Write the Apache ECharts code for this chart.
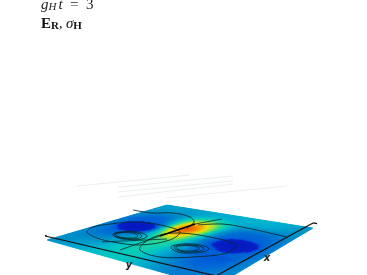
<!DOCTYPE html>
<html>
<head>
<meta charset="utf-8">
<title>E_R, sigma_H</title>
<script src="https://cdn.jsdelivr.net/npm/echarts@6/dist/echarts.min.js"></script>
<style>
  html, body { margin: 0; padding: 0; background: #fff; }
  #chart { width: 367px; height: 275px; }
</style>
</head>
<body>
<div id="chart"></div>
<script>
// field on the plate, in percent of the colour range. rows run along x, columns along y
const fieldRows = [
  [30, 31, 32, 34, 36, 38, 40, 41, 42, 43, 43, 42, 40, 36, 32, 28, 26, 26, 27, 29, 30],
  [30, 30, 31, 33, 35, 37, 40, 42, 43, 44, 44, 42, 39, 35, 30, 27, 25, 25, 26, 28, 30],
  [30, 30, 30, 32, 33, 36, 39, 42, 44, 45, 45, 43, 38, 33, 29, 25, 23, 23, 25, 27, 30],
  [29, 29, 29, 30, 31, 34, 38, 42, 45, 46, 46, 44, 38, 32, 27, 23, 21, 21, 23, 26, 29],
  [29, 28, 27, 28, 29, 32, 37, 42, 45, 47, 47, 44, 38, 31, 25, 21, 19, 19, 21, 25, 29],
  [29, 27, 25, 25, 26, 30, 35, 41, 46, 48, 48, 45, 38, 30, 24, 20, 18, 18, 20, 24, 28],
  [28, 26, 23, 22, 23, 27, 33, 40, 46, 50, 50, 46, 38, 29, 22, 19, 17, 16, 18, 23, 28],
  [28, 25, 22, 20, 20, 22, 28, 38, 46, 52, 52, 47, 38, 28, 21, 20, 20, 20, 21, 22, 27],
  [27, 24, 19, 11, 9, 13, 21, 38, 52, 62, 62, 52, 39, 27, 20, 17, 10, 11, 19, 22, 27],
  [27, 24, 11, 3, 1, 4, 13, 40, 58, 72, 70, 56, 40, 26, 18, 9, 2, 3, 11, 22, 26],
  [26, 23, 11, 3, 1, 4, 13, 44, 66, 82, 78, 60, 42, 26, 18, 8, 1, 2, 10, 21, 26],
  [26, 22, 19, 11, 9, 13, 21, 48, 74, 91, 86, 66, 45, 27, 20, 13, 6, 7, 15, 22, 27],
  [27, 22, 20, 20, 19, 20, 26, 50, 78, 96, 90, 70, 48, 29, 22, 20, 18, 19, 20, 23, 27],
  [28, 24, 21, 20, 20, 22, 32, 50, 74, 90, 84, 68, 50, 32, 23, 21, 20, 20, 21, 24, 28],
  [29, 26, 23, 21, 21, 24, 34, 50, 68, 78, 76, 64, 50, 35, 26, 22, 21, 21, 23, 25, 29],
  [30, 28, 26, 25, 25, 27, 35, 47, 60, 67, 66, 58, 48, 37, 29, 26, 25, 25, 25, 27, 30],
  [31, 30, 29, 28, 28, 29, 34, 43, 50, 55, 55, 50, 44, 37, 33, 31, 30, 29, 28, 29, 31],
  [32, 32, 31, 31, 31, 31, 34, 39, 43, 46, 46, 44, 41, 38, 36, 36, 35, 34, 32, 31, 31],
  [33, 33, 33, 33, 32, 32, 34, 36, 38, 40, 40, 39, 38, 38, 38, 38, 38, 36, 34, 32, 31],
  [34, 34, 34, 33, 33, 33, 34, 35, 36, 37, 37, 37, 38, 38, 39, 39, 38, 37, 35, 33, 31],
  [34, 34, 34, 33, 33, 33, 34, 35, 36, 36, 37, 37, 38, 38, 39, 39, 38, 37, 35, 33, 31]
]

// contours on the plate, [x, y] in plate units
const ringLeft1 = [[0.357, 0.37], [0.386, 0.281], [0.351, 0.218], [0.278, 0.199], [0.241, 0.272], [0.258, 0.34], [0.301, 0.384]]
const ringLeft2 = [[0.345, 0.345], [0.37, 0.27], [0.34, 0.215], [0.28, 0.205], [0.25, 0.265], [0.265, 0.325], [0.3, 0.36]]
const ringLeft3 = [[0.335, 0.325], [0.355, 0.265], [0.33, 0.222], [0.285, 0.212], [0.26, 0.262], [0.272, 0.312], [0.3, 0.34]]
const ringRight1 = [[0.372, 0.74], [0.392, 0.676], [0.357, 0.601], [0.284, 0.582], [0.244, 0.653], [0.271, 0.713], [0.325, 0.749]]
const ringRight2 = [[0.36, 0.72], [0.375, 0.665], [0.345, 0.61], [0.29, 0.595], [0.26, 0.655], [0.28, 0.7], [0.325, 0.73]]
const ringRight3 = [[0.35, 0.7], [0.36, 0.655], [0.335, 0.615], [0.295, 0.605], [0.272, 0.655], [0.29, 0.69], [0.325, 0.71]]
const loopLeft = [[0.223, 0.056], [0.312, 0.007], [0.415, 0.04], [0.517, 0.102], [0.558, 0.198], [0.567, 0.324], [0.518, 0.464], [0.371, 0.509], [0.22, 0.441], [0.177, 0.3], [0.177, 0.183]]
const loopRight = [[0.411, 0.413], [0.502, 0.476], [0.533, 0.643], [0.495, 0.815], [0.366, 0.841], [0.229, 0.748], [0.141, 0.63], [0.162, 0.492], [0.27, 0.43]]
const arcUpper = [[0.756, -0.091], [0.763, 0.064], [0.84, 0.173], [0.817, 0.32], [0.734, 0.406], [0.604, 0.448]]
const arcRight = [[0.692, 0.462], [0.791, 0.565], [0.795, 0.714], [0.76, 0.957]]
const streakThin = [[0.106, 0.416], [0.397, 0.424], [0.699, 0.437], [0.887, 0.501]]
const streakHeavy = [[0.397, 0.424], [0.699, 0.437]]
const branchLeft = [[0.144, 0.255], [0.376, 0.486]]

// faint traces floating behind the plate
const traces = [
  [[1.152, -1.105], [2.191, -0.643]],
  [[1.315, -0.77], [2.361, -0.263]],
  [[1.154, -0.614], [2.108, -0.119]],
  [[1.013, -0.467], [1.972, -0.042]],
  [[1.188, -0.147], [2.131, 0.371]]
]

// axes of the box
const axisY = [[0.039, -0.068], [0.098, 0.948]]
const axisX = [[0.098, 0.948], [1.105, 0.962]]
const axisHookY = [[0.039, -0.068], [0.052, -0.072]]
const axisHookX = [[1.105, 0.962], [1.105, 0.985]]
const axisLabels = [['y', -0.017, 0.588], ['x', 0.41, 1.015]]

// camera: where the plate corners land, in page units
const P = { a: 175.4, b: 107.6, c: 47, d: 33.1, e: -32.6, f: 240, g: 0.332, h: -0.2774 }

const colorStops = [
  [0, [6, 24, 190]], [0.15, [8, 32, 200]], [0.165, [0, 84, 216]], [0.23, [0, 112, 212]],
  [0.3, [0, 144, 200]], [0.38, [0, 176, 208]], [0.44, [0, 200, 192]], [0.52, [48, 216, 144]],
  [0.6, [144, 224, 64]], [0.7, [232, 224, 16]], [0.8, [248, 168, 0]], [0.9, [240, 112, 0]], [1, [232, 64, 0]]
]

function project(u, v) {
  const w = P.g * u + P.h * v + 1
  return [(P.a * u + P.b * v + P.c) / w, (P.d * u + P.e * v + P.f) / w]
}

function colorAt(t) {
  for (let i = 1; i < colorStops.length; i++) {
    if (t <= colorStops[i][0]) {
      const s = colorStops[i - 1]
      const e = colorStops[i]
      const k = (t - s[0]) / (e[0] - s[0])
      return 'rgb(' + [0, 1, 2].map(n => Math.round(s[1][n] + (e[1][n] - s[1][n]) * k)).join(',') + ')'
    }
  }
  return 'rgb(232,64,0)'
}

const rowCount = fieldRows.length - 1
const colCount = fieldRows[0].length - 1
const subdiv = 5

function fieldCell(params, api) {
  const i = api.value(0)
  const j = api.value(1)
  const q = (a, b) => {
    const p = project((i + a) / rowCount, (j + b) / colCount)
    return api.coord(p)
  }
  const val = (a, b) => {
    const v00 = fieldRows[i][j]
    const v01 = fieldRows[i][j + 1]
    const v10 = fieldRows[i + 1][j]
    const v11 = fieldRows[i + 1][j + 1]
    return ((1 - a) * (1 - b) * v00 + (1 - a) * b * v01 + a * (1 - b) * v10 + a * b * v11) / 100
  }
  const children = []
  for (let a = 0; a < subdiv; a++) {
    for (let b = 0; b < subdiv; b++) {
      const a0 = a / subdiv
      const a1 = (a + 1) / subdiv
      const b0 = b / subdiv
      const b1 = (b + 1) / subdiv
      const color = colorAt(val((a0 + a1) / 2, (b0 + b1) / 2))
      children.push({
        type: 'polygon',
        shape: { points: [q(a0, b0), q(a1, b0), q(a1, b1), q(a0, b1)] },
        style: { fill: color, stroke: color, lineWidth: 0.6 }
      })
    }
  }
  return { type: 'group', children: children }
}

const fieldData = []
for (let i = 0; i < rowCount; i++) {
  for (let j = 0; j < colCount; j++) {
    fieldData.push([i, j])
  }
}

function pathSeries(paths, color, width, closed, smooth) {
  return {
    type: 'custom',
    coordinateSystem: 'cartesian2d',
    clip: false,
    silent: true,
    data: paths.map((p, i) => [i]),
    renderItem(params, api) {
      const pts = paths[params.dataIndex].map(p => api.coord(project(p[0], p[1])))
      return {
        type: closed ? 'polygon' : 'polyline',
        shape: { points: pts, smooth: smooth },
        style: { fill: 'none', stroke: color, lineWidth: width }
      }
    }
  }
}

const contourColor = 'rgba(6,40,48,0.85)'

const chart = echarts.init(document.getElementById('chart'), null, { renderer: 'canvas' })
chart.setOption({
  animation: false,
  backgroundColor: '#fff',
  grid: { left: 0, right: 0, top: 0, bottom: 0 },
  xAxis: { type: 'value', min: 0, max: 367, show: false },
  yAxis: { type: 'value', min: 0, max: 275, inverse: true, show: false },
  title: [
    {
      left: 41,
      top: -3,
      padding: 0,
      text: '{i|g}{s|H}{i|t}{n|  =  3}',
      textStyle: {
        fontWeight: 'normal',
        rich: {
          i: { fontFamily: 'Liberation Serif', fontStyle: 'italic', fontWeight: 'normal', fontSize: 15, color: '#222' },
          s: { fontFamily: 'Liberation Serif', fontStyle: 'italic', fontWeight: 'normal', fontSize: 11, color: '#222', verticalAlign: 'bottom', padding: [5, 2, 0, 0] },
          n: { fontFamily: 'Liberation Serif', fontWeight: 'normal', fontSize: 15, color: '#222' }
        }
      }
    },
    {
      left: 41,
      top: 17,
      padding: 0,
      text: '{b|E}{s|R}{n|, }{g|σ}{s|H}',
      textStyle: {
        fontWeight: 'normal',
        rich: {
          b: { fontFamily: 'Liberation Serif', fontWeight: 'bold', fontSize: 15, color: '#111' },
          s: { fontFamily: 'Liberation Serif', fontWeight: 'bold', fontSize: 11, color: '#111', verticalAlign: 'bottom', padding: [4, 0, 0, 0] },
          n: { fontFamily: 'Liberation Serif', fontWeight: 'normal', fontSize: 14, color: '#111' },
          g: { fontFamily: 'Liberation Serif', fontStyle: 'italic', fontWeight: 'normal', fontSize: 15, color: '#111' }
        }
      }
    }
  ],
  series: [
    pathSeries(traces, '#e9f1ef', 1, false, 0),
    {
      type: 'custom',
      coordinateSystem: 'cartesian2d',
      clip: false,
      silent: true,
      data: fieldData,
      renderItem: fieldCell
    },
    pathSeries([loopLeft, loopRight], contourColor, 1, true, 0.35),
    pathSeries([arcUpper, arcRight], contourColor, 1, false, 0.35),
    pathSeries([ringLeft1, ringLeft2, ringLeft3, ringRight1, ringRight2, ringRight3], contourColor, 1, true, 0.4),
    pathSeries([streakThin, branchLeft], contourColor, 0.9, false, 0),
    pathSeries([streakHeavy], 'rgba(0,0,0,0.9)', 1.6, false, 0),
    pathSeries([axisY, axisX, axisHookY, axisHookX], '#111', 1.2, false, 0),
    {
      type: 'custom',
      coordinateSystem: 'cartesian2d',
      clip: false,
      silent: true,
      data: axisLabels.map((l, i) => [i]),
      renderItem(params, api) {
        const l = axisLabels[params.dataIndex]
        const p = api.coord(project(l[1], l[2]))
        return {
          type: 'text',
          x: p[0],
          y: p[1],
          style: {
            text: l[0],
            fontFamily: 'DejaVu Sans',
            fontWeight: 'bold',
            fontStyle: 'italic',
            fontSize: 10,
            fill: '#222',
            align: 'center',
            verticalAlign: 'middle'
          }
        }
      }
    }
  ]
})
</script>
</body>
</html>
